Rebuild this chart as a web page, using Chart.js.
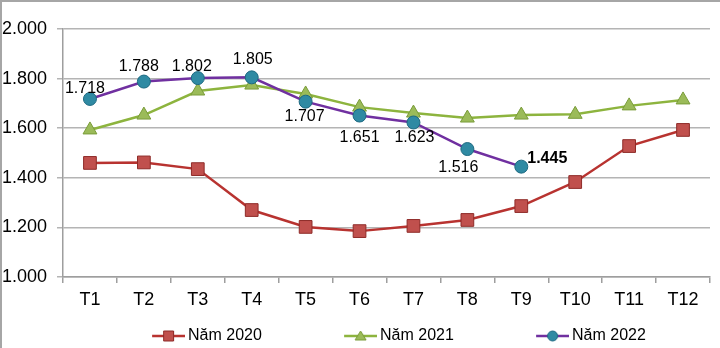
<!DOCTYPE html>
<html>
<head>
<meta charset="utf-8">
<script src="https://cdn.jsdelivr.net/npm/chart.js@4/dist/chart.umd.min.js"></script>
<style>
html,body{margin:0;padding:0;background:#ffffff;}
#wrap{width:720px;height:348px;position:relative;}
</style>
</head>
<body>
<div id="wrap"><canvas id="c" width="720" height="348"></canvas></div>
<script>
// ---- data ----
const months = ['T1','T2','T3','T4','T5','T6','T7','T8','T9','T10','T11','T12'];
const data2020 = [1460,1462,1435,1270,1202,1185,1206,1230,1286,1383,1528,1593];
const data2021 = [1593,1653,1750,1774,1738,1685,1661,1641,1653,1656,1690,1714];
const data2022 = [1718,1788,1802,1805,1707,1651,1623,1516,1445];
const seriesNames = ['Năm 2020','Năm 2021','Năm 2022'];
const yTickValues = [1000,1200,1400,1600,1800,2000];

// ---- styling ----
const FONT = "'Liberation Sans', Arial, sans-serif";
Chart.defaults.font.family = FONT;
Chart.defaults.color = '#000';

const styles = [
  {line:'#b83330', fill:'#c0504d', border:'#8e2b28', shape:'rect', r:9},
  {line:'#8db43e', fill:'#9bbb59', border:'#7a9c3a', shape:'triangle', r:8},
  {line:'#7030a0', fill:'#2f8aa3', border:'#1e6a82', shape:'circle', r:6.5}
];
// label offsets for the 2022 series values (dx, dy) relative to each point
const labelOffsets = [[-5,-10],[-5,-15],[-6,-12],[1,-18],[-1,15],[0,22],[1,15],[-9,19],[26,-8]];
const boldLabelIndex = 8;

function fmt(v){ return String(v).replace(/\B(?=(\d{3})+(?!\d))/g,'.'); }

// legend geometry (centre the legend items where the reference has them)
const LEG_FONT = 16, ITEM_STEP = 192;
const mctx = document.createElement('canvas').getContext('2d');
mctx.font = LEG_FONT + "px " + FONT;
const tw = Math.max(...seriesNames.map(s => mctx.measureText(s).width));
const LEG_PAD = Math.max(0, 151 - 2*tw);
const BOX = ITEM_STEP - LEG_PAD - LEG_FONT/2 - tw;
const LEG_H = LEG_FONT + LEG_PAD + 10;
const PAD_BOTTOM = -6;
const X_AXIS_H = (348 - PAD_BOTTOM) - 277 - LEG_H;

function makeIcon(st){
  const w = Math.round(BOX + 10), h = 16;
  const c = document.createElement('canvas');
  c.width = w; c.height = h;
  const g = c.getContext('2d');
  const x1 = w - 33, x2 = w, cy = h/2, cx = (x1 + x2)/2;
  g.strokeStyle = st.line; g.lineWidth = 2.5;
  g.beginPath(); g.moveTo(x1, cy); g.lineTo(x2, cy); g.stroke();
  g.fillStyle = st.fill; g.strokeStyle = st.border; g.lineWidth = 1;
  g.beginPath();
  if (st.shape === 'rect') { g.rect(cx-5, cy-5, 10, 10); }
  else if (st.shape === 'triangle') { g.moveTo(cx, cy-5); g.lineTo(cx+5.5, cy+4); g.lineTo(cx-5.5, cy+4); g.closePath(); }
  else { g.arc(cx, cy, 5, 0, Math.PI*2); }
  g.fill(); g.stroke();
  return c;
}
const icons = styles.map(makeIcon);

const framePlugin = {
  id: 'frame',
  beforeDraw(chart){
    const ctx = chart.ctx;
    ctx.save();
    ctx.fillStyle = '#fff';
    ctx.fillRect(0,0,chart.width,chart.height);
    ctx.strokeStyle = '#a6a6a6'; ctx.lineWidth = 2;
    ctx.beginPath();
    ctx.moveTo(0,1); ctx.lineTo(chart.width,1);
    ctx.moveTo(1,0); ctx.lineTo(1,chart.height);
    ctx.stroke();
    ctx.restore();
  }
};

const valueLabelPlugin = {
  id: 'valueLabels',
  afterDatasetsDraw(chart){
    const ctx = chart.ctx;
    const meta = chart.getDatasetMeta(2);
    ctx.save();
    ctx.fillStyle = '#000';
    ctx.textAlign = 'center';
    ctx.textBaseline = 'middle';
    meta.data.forEach((pt, i) => {
      const off = labelOffsets[i] || [0,-14];
      ctx.font = (i === boldLabelIndex ? 'bold ' : '') + '16px ' + FONT;
      ctx.fillText(fmt(data2022[i]), pt.x + off[0], pt.y + off[1]);
    });
    ctx.restore();
  }
};

function ds(label, data, st, order){
  return {
    label, data, order,
    borderColor: st.line, borderWidth: 2.5,
    backgroundColor: st.fill,
    pointStyle: st.shape, pointRadius: st.r, pointHoverRadius: st.r,
    pointBackgroundColor: st.fill, pointBorderColor: st.border, pointBorderWidth: 1,
    tension: 0, fill: false
  };
}

new Chart(document.getElementById('c'), {
  type: 'line',
  data: {
    labels: months,
    datasets: [
      ds(seriesNames[0], data2020, styles[0], 2),
      ds(seriesNames[1], data2021, styles[1], 1),
      ds(seriesNames[2], data2022, styles[2], 0)
    ]
  },
  options: {
    responsive: false,
    animation: false,
    events: [],
    layout: { padding: { left: 0, right: 1, top: 29, bottom: PAD_BOTTOM } },
    scales: {
      x: {
        offset: true,
        grid: { display: true, drawOnChartArea: false, drawTicks: true, tickLength: 6, offset: true, color: '#9e9e9e', lineWidth: 1.5 },
        border: { display: true, color: '#9e9e9e', width: 1.5 },
        ticks: { font: { size: 18 }, color: '#000', padding: 6, maxRotation: 0, autoSkip: false },
        afterFit(s){ s.height = X_AXIS_H; }
      },
      y: {
        min: 1000, max: 2000,
        afterBuildTicks(s){ s.ticks = yTickValues.map(v => ({value: v})); },
        grid: { color: '#b4b4b4', lineWidth: 1.5, drawTicks: true, tickLength: 6 },
        border: { display: true, color: '#9e9e9e', width: 1.5 },
        ticks: { font: { size: 18 }, color: '#000', padding: 10, callback: v => fmt(v) },
        afterFit(s){ s.width = 63; }
      }
    },
    plugins: {
      tooltip: { enabled: false },
      legend: {
        position: 'bottom',
        align: 'center',
        labels: {
          usePointStyle: true,
          pointStyleWidth: BOX,
          padding: LEG_PAD,
          font: { size: LEG_FONT },
          color: '#000',
          generateLabels(chart){
            return seriesNames.map((n, i) => ({
              text: n, pointStyle: icons[i], fillStyle: styles[i].fill,
              strokeStyle: styles[i].line, lineWidth: 0, hidden: false,
              datasetIndex: i, fontColor: '#000'
            }));
          }
        }
      }
    }
  },
  plugins: [framePlugin, valueLabelPlugin]
});
</script>
</body>
</html>
